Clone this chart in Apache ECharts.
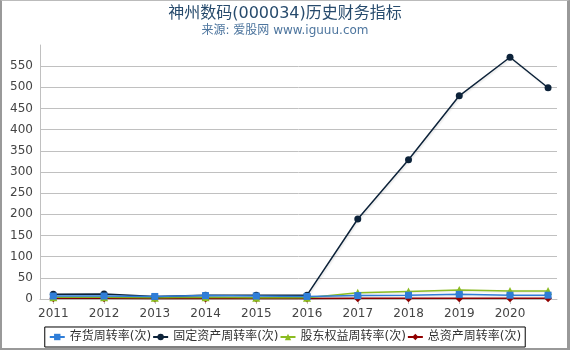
<!DOCTYPE html>
<html>
<head>
<meta charset="utf-8">
<script src="https://cdn.jsdelivr.net/npm/echarts@6/dist/echarts.min.js"></script>
<style>
  body { margin: 0; background: #fff; }
  #chart { width: 570px; height: 350px; }
  #frame {
    position: absolute; left: 0; top: 0; width: 570px; height: 350px;
    box-sizing: border-box; pointer-events: none;
    border-left: 2px solid #999; border-top: 1px solid #bbb;
    border-right: 3px solid #999; border-bottom: 2px solid #999;
  }
</style>
</head>
<body>
<div id="chart"></div>
<div id="frame"></div>
<script>
// x positions in years (last point is 2021 Q3)
const xPos = [2011, 2012, 2013, 2014, 2015, 2016, 2017, 2018, 2019, 2020, 2020.75];
const yearTicks = [2011, 2012, 2013, 2014, 2015, 2016, 2017, 2018, 2019, 2020];

const inventoryTurn = [7, 7, 6, 8, 7, 6, 8, 9, 11, 9, 9];
const fixedAssetTurn = [11, 12, 6, 9, 9, 9, 189, 329, 480, 571, 499];
const equityTurn = [4, 4, 3, 4, 3, 3, 15, 18, 21, 19, 19];
const totalAssetTurn = [1.5, 1.5, 1.4, 1.4, 1.3, 1.2, 1.5, 1.6, 1.7, 1.6, 1.6];

const names = ['存货周转率(次)', '固定资产周转率(次)', '股东权益周转率(次)', '总资产周转率(次)'];
const colors = ['#2f7ed8', '#0d233a', '#8bbc21', '#910000'];
const font = 'DejaVu Sans, Noto Sans CJK SC, sans-serif';

const pair = (vals) => vals.map((v, i) => [xPos[i], v]);

const myChart = echarts.init(document.getElementById('chart'));

function mkSeries(idx, vals, symbol, size, z) {
  return {
    name: names[idx],
    type: 'line',
    data: pair(vals),
    symbol: symbol,
    symbolSize: size,
    z: z,
    lineStyle: {
      width: 1.5,
      color: colors[idx],
      shadowColor: 'rgba(0,0,0,0.12)',
      shadowBlur: 2,
      shadowOffsetX: 1,
      shadowOffsetY: 1
    },
    itemStyle: { color: colors[idx] }
  };
}

const option = {
  animation: false,
  color: colors,
  title: {
    text: '神州数码(000034)历史财务指标',
    subtext: '来源: 爱股网 www.iguuu.com',
    left: 'center',
    top: 1,
    itemGap: 3,
    textStyle: { fontFamily: font, fontSize: 16, fontWeight: 'normal', color: '#274b6d' },
    subtextStyle: { fontFamily: font, fontSize: 12, color: '#4d759e' }
  },
  legend: {
    bottom: 3,
    left: 'center',
    itemWidth: 15,
    itemHeight: 8,
    itemGap: 1,
    padding: [4, 4],
    borderColor: '#000',
    borderWidth: 1,
    textStyle: { fontFamily: font, fontSize: 12, color: '#333' },
    data: names
  },
  grid: { left: 40, right: 13, top: 45, bottom: 51 },
  xAxis: {
    type: 'value',
    min: 2010.738,
    max: 2020.926,
    axisLine: { show: true, lineStyle: { color: '#c0c0c0' } },
    axisTick: { show: true, length: 5, customValues: yearTicks, lineStyle: { color: '#c0c0c0' } },
    axisLabel: {
      customValues: yearTicks,
      margin: 9,
      fontFamily: font,
      fontSize: 12,
      color: '#444',
      formatter: (v) => String(Math.round(v))
    },
    splitLine: { show: false }
  },
  yAxis: {
    type: 'value',
    min: 0,
    max: 600,
    interval: 50,
    axisLine: { show: true, lineStyle: { color: '#c0c0c0' } },
    axisTick: { show: false },
    axisLabel: { showMaxLabel: false, margin: 7, fontFamily: font, fontSize: 12, color: '#444' },
    splitLine: { show: true, showMaxLine: false, lineStyle: { color: '#c0c0c0' } }
  },
  series: [
    mkSeries(0, inventoryTurn, 'rect', 7, 5),
    mkSeries(1, fixedAssetTurn, 'circle', 7, 4),
    mkSeries(2, equityTurn, 'triangle', 8, 3),
    mkSeries(3, totalAssetTurn, 'diamond', 8, 2)
  ]
};

myChart.setOption(option);
</script>
</body>
</html>
